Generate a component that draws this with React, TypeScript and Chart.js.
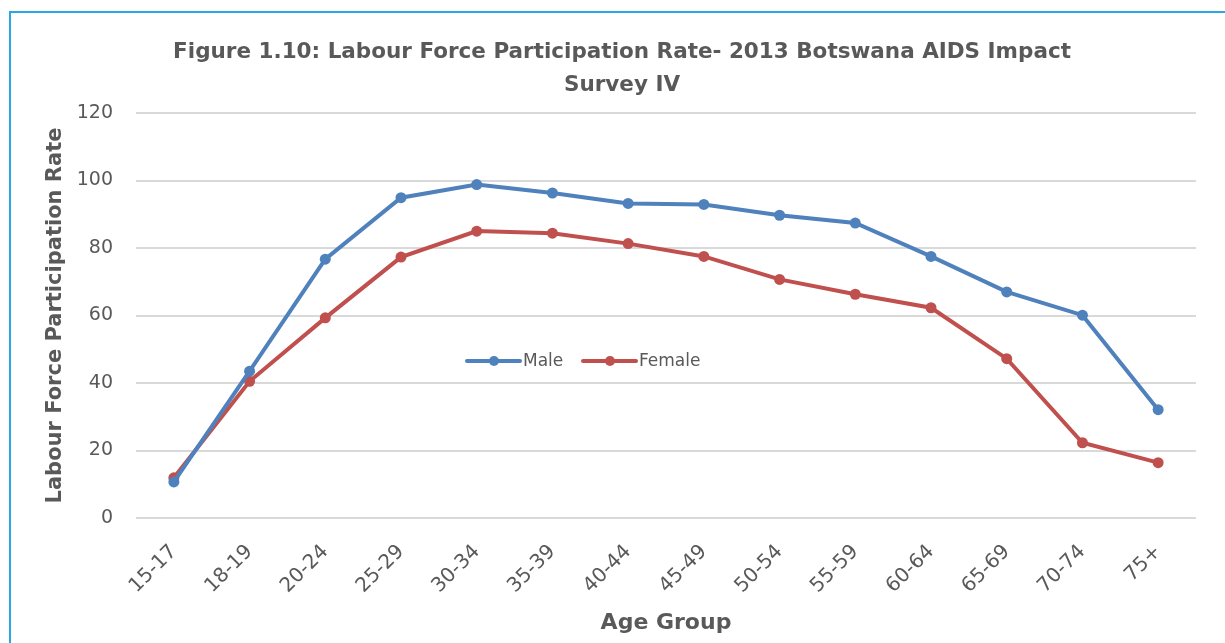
import React, { useEffect, useRef } from "react";
import { Chart, registerables } from "chart.js";

Chart.register(...registerables);

const ageGroups = ["15-17", "18-19", "20-24", "25-29", "30-34", "35-39", "40-44", "45-49", "50-54", "55-59", "60-64", "65-69", "70-74", "75+"];
const maleRates = [10.7, 43.5, 76.7, 94.9, 98.8, 96.3, 93.2, 92.9, 89.7, 87.4, 77.5, 67.0, 60.1, 32.1];
const femaleRates = [11.9, 40.5, 59.3, 77.3, 85.0, 84.4, 81.3, 77.5, 70.7, 66.3, 62.3, 47.2, 22.3, 16.4];
const titleLines = ["Figure 1.10: Labour Force Participation Rate- 2013 Botswana AIDS Impact", "Survey IV"];
const seriesNames = ["Male", "Female"];
const yAxisTitle = "Labour Force Participation Rate";
const xAxisTitle = "Age Group";

const FONT = "'DejaVu Sans', sans-serif";
const TEXT = "#595959";
const BLUE = "#4F81BD";
const RED = "#C0504D";

const overlayPlugin = {
  id: "overlayText",
  afterDraw(chart: any) {
    const ctx = chart.ctx;
    ctx.save();
    // Title
    ctx.fillStyle = TEXT;
    ctx.font = `bold 21.5px ${FONT}`;
    ctx.textAlign = "center";
    ctx.textBaseline = "middle";
    titleLines.forEach((t, i) => ctx.fillText(t, 622, 52 + i * 33));

    // Legend inside plot
    const colors = [BLUE, RED];
    const starts = [467, 583];
    const y = 361;
    ctx.font = `17px ${FONT}`;
    ctx.textAlign = "left";
    seriesNames.forEach((name, i) => {
      const x0 = starts[i];
      ctx.strokeStyle = colors[i];
      ctx.lineWidth = 4;
      ctx.lineCap = "round";
      ctx.beginPath();
      ctx.moveTo(x0, y);
      ctx.lineTo(x0 + 53, y);
      ctx.stroke();
      ctx.fillStyle = colors[i];
      ctx.beginPath();
      ctx.arc(x0 + 27, y, 5, 0, Math.PI * 2);
      ctx.fill();
      ctx.fillStyle = TEXT;
      ctx.fillText(name, x0 + 56, y + 1);
    });
    ctx.restore();
  },
};

export default function App() {
  const ref = useRef<HTMLCanvasElement>(null);
  useEffect(() => {
    if (!ref.current) return;
    const chart = new Chart(ref.current, {
      type: "line",
      data: {
        labels: ageGroups,
        datasets: [
          {
            label: seriesNames[0],
            data: maleRates,
            borderColor: BLUE,
            backgroundColor: BLUE,
            borderWidth: 4,
            pointRadius: 5.5,
            pointBackgroundColor: BLUE,
            pointBorderWidth: 0,
            tension: 0,
          },
          {
            label: seriesNames[1],
            data: femaleRates,
            borderColor: RED,
            backgroundColor: RED,
            borderWidth: 4,
            pointRadius: 5.5,
            pointBackgroundColor: RED,
            pointBorderWidth: 0,
            tension: 0,
          },
        ],
      },
      options: {
        responsive: false,
        animation: false,
        layout: { padding: { left: 30, top: 113, right: 29, bottom: 0 } },
        plugins: {
          legend: { display: false },
          title: { display: false },
          tooltip: { enabled: false },
        },
        scales: {
          x: {
            type: "category",
            offset: true,
            grid: { display: false, drawTicks: false },
            border: { display: false },
            ticks: {
              color: TEXT,
              font: { family: FONT, size: 20 },
              minRotation: 45,
              maxRotation: 45,
              autoSkip: false,
              padding: 22,
            },
            title: {
              display: true,
              text: xAxisTitle,
              color: TEXT,
              font: { family: FONT, size: 22, weight: "bold" },
              padding: { top: 0, bottom: 7 },
            },
            afterFit: (s: any) => {
              s.height = 125;
            },
          },
          y: {
            min: 0,
            max: 120,
            ticks: {
              stepSize: 20,
              color: TEXT,
              font: { family: FONT, size: 19 },
              padding: 23,
            },
            grid: { color: "#D9D9D9", lineWidth: 2, drawTicks: false },
            border: { display: false },
            title: {
              display: true,
              text: yAxisTitle,
              color: TEXT,
              font: { family: FONT, size: 21, weight: "bold" },
              padding: { top: 13, bottom: 0 },
            },
            afterFit: (s: any) => {
              s.width = 106;
            },
          },
        },
      },
      plugins: [overlayPlugin],
    });
    return () => chart.destroy();
  }, []);

  return (
    <div style={{ position: "absolute", left: 0, top: 0, width: 1225, height: 643, overflow: "hidden", background: "#fff" }}>
      <div
        style={{
          position: "absolute",
          left: 9,
          top: 11,
          width: 1400,
          height: 800,
          borderTop: "2px solid #2AA8E0",
          borderLeft: "2px solid #2AA8E0",
        }}
      />
      <canvas ref={ref} width={1225} height={643} style={{ position: "absolute", left: 0, top: 0, width: 1225, height: 643 }} />
    </div>
  );
}
